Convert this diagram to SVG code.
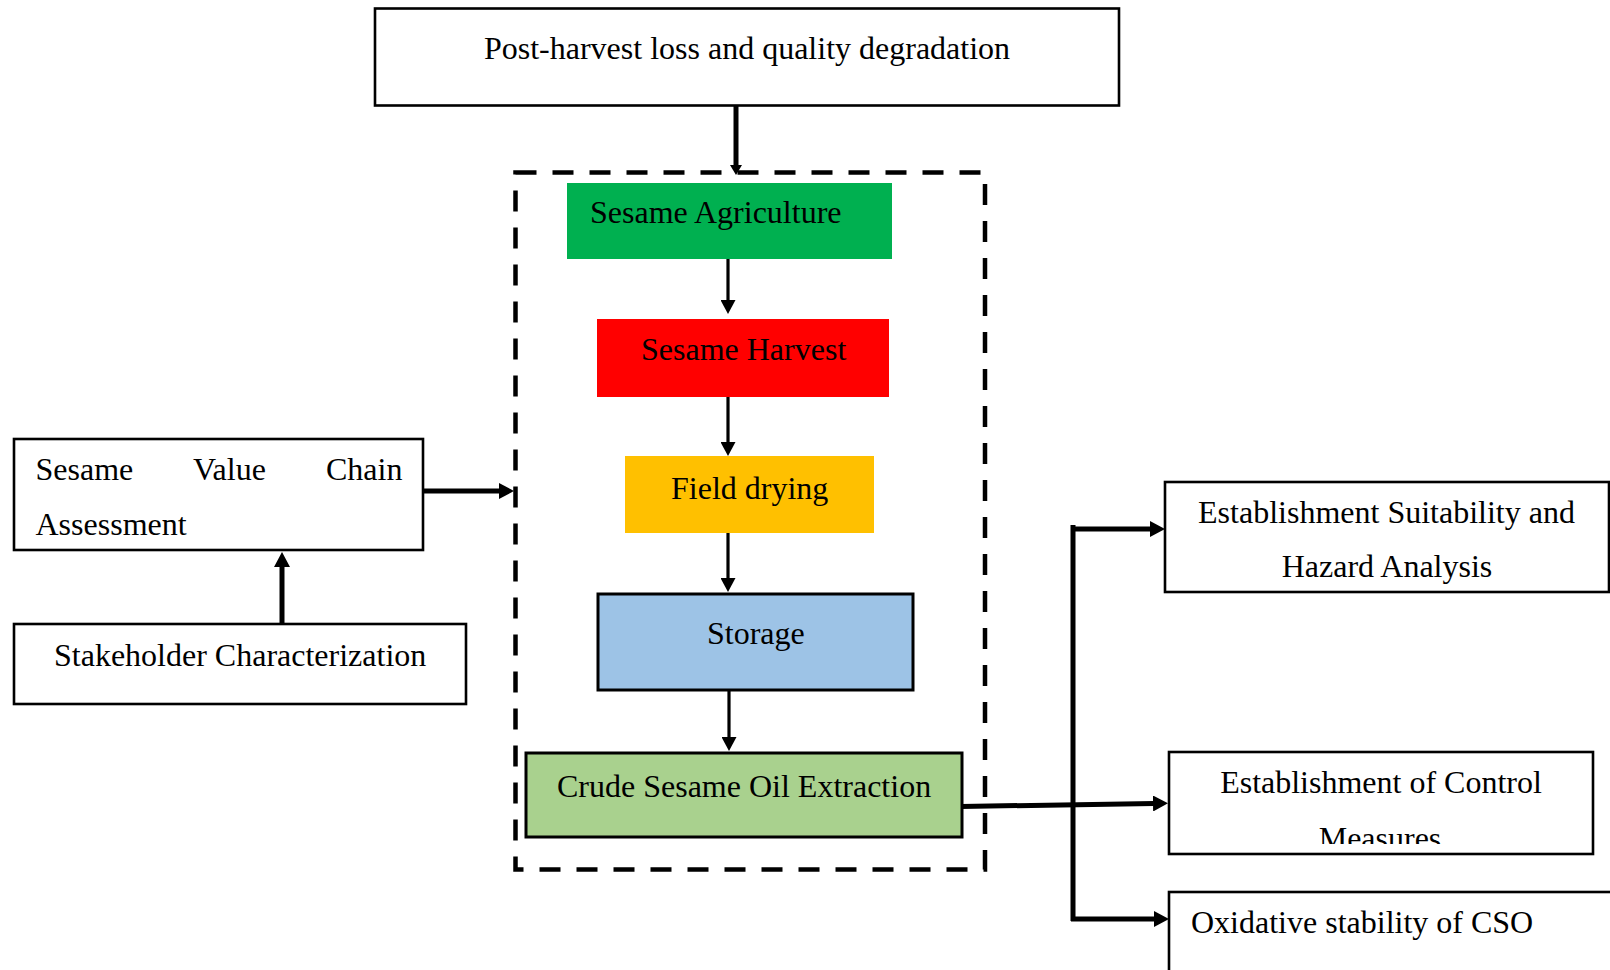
<svg xmlns="http://www.w3.org/2000/svg" width="1610" height="970" viewBox="0 0 1610 970">
  <style>
    .box { fill: #ffffff; stroke: #000000; stroke-width: 2.6; }
    .step { stroke: none; }
    .step-line { stroke: #000000; stroke-width: 3; }
    .label { font-family: "Liberation Serif", "Times New Roman", serif; font-size: 32px; fill: #000000; }
    .mid { text-anchor: middle; }
    .thin { fill: none; stroke: #000000; stroke-width: 3.2; }
    .bold { fill: none; stroke: #000000; stroke-width: 5; }
    .frame { fill: none; stroke: #000000; stroke-width: 4.5; stroke-dasharray: 21 16; }
  </style>
  <defs>
    <marker id="head-sm" viewBox="0 0 14 15" refX="1" refY="7.5" markerWidth="14" markerHeight="15" markerUnits="userSpaceOnUse" orient="auto">
      <path d="M0,0 L14,7.5 L0,15 Z" fill="#000000"/>
    </marker>
    <marker id="head-lg" viewBox="0 0 15 16" refX="1" refY="8" markerWidth="15" markerHeight="16" markerUnits="userSpaceOnUse" orient="auto">
      <path d="M0,0 L15,8 L0,16 Z" fill="#000000"/>
    </marker>
    <marker id="head-tiny" viewBox="0 0 10 12" refX="1" refY="6" markerWidth="10" markerHeight="12" markerUnits="userSpaceOnUse" orient="auto">
      <path d="M0,0 L10,6 L0,12 Z" fill="#000000"/>
    </marker>
    <clipPath id="clip-control">
      <rect x="1169" y="752" width="424" height="92"/>
    </clipPath>
  </defs>

  <rect width="1610" height="970" fill="#ffffff"/>

  <!-- dashed frame around the processing chain -->
  <g id="chain-frame">
    <rect class="frame" x="515.5" y="172.5" width="469.5" height="697"/>
  </g>

  <!-- connectors -->
  <g id="connectors">
    <path class="bold" d="M736,106 V166" marker-end="url(#head-tiny)"/>
    <path class="thin" d="M728,254 V301" marker-end="url(#head-sm)"/>
    <path class="thin" d="M728,397 V443" marker-end="url(#head-sm)"/>
    <path class="thin" d="M728,533 V579" marker-end="url(#head-sm)"/>
    <path class="thin" d="M729,690 V738" marker-end="url(#head-sm)"/>
    <path class="bold" d="M423,491 H500" marker-end="url(#head-lg)"/>
    <path class="bold" d="M282,624 V566" marker-end="url(#head-lg)"/>
    <path class="bold" d="M1073,525 V921"/>
    <path class="bold" d="M1071,529 H1151" marker-end="url(#head-lg)"/>
    <path class="bold" d="M961,806.5 L1154,803.5" marker-end="url(#head-lg)"/>
    <path class="bold" d="M1071,919 H1155" marker-end="url(#head-lg)"/>
  </g>

  <g id="post-harvest-loss">
    <rect class="box" x="375" y="8.5" width="744" height="97"/>
    <text class="label mid" x="747" y="59">Post-harvest loss and quality degradation</text>
  </g>

  <g id="sesame-agriculture">
    <rect class="step" x="567" y="183" width="325" height="76" fill="#00B050"/>
    <text class="label" x="590" y="223">Sesame Agriculture</text>
  </g>

  <g id="sesame-harvest">
    <rect class="step" x="597" y="319" width="292" height="78" fill="#FF0000"/>
    <text class="label" x="641" y="360">Sesame Harvest</text>
  </g>

  <g id="field-drying">
    <rect class="step" x="625" y="456" width="249" height="77" fill="#FFC000"/>
    <text class="label" x="671" y="499">Field drying</text>
  </g>

  <g id="storage">
    <rect class="step-line" x="598" y="594" width="315" height="96" fill="#9DC3E6"/>
    <text class="label" x="707" y="644">Storage</text>
  </g>

  <g id="oil-extraction">
    <rect class="step-line" x="526" y="753" width="436" height="84" fill="#A9D18E"/>
    <text class="label" x="557" y="797">Crude Sesame Oil Extraction</text>
  </g>

  <g id="value-chain-assessment">
    <rect class="box" x="14" y="439" width="409" height="111"/>
    <text class="label" y="480"><tspan x="35.5">Sesame</tspan><tspan x="193">Value</tspan><tspan x="326">Chain</tspan></text>
    <text class="label" x="35.5" y="535">Assessment</text>
  </g>

  <g id="stakeholder-characterization">
    <rect class="box" x="14" y="624" width="452" height="80"/>
    <text class="label" x="54" y="666">Stakeholder Characterization</text>
  </g>

  <g id="suitability-hazard">
    <rect class="box" x="1165" y="482" width="444" height="110"/>
    <text class="label mid" x="1386.5" y="523">Establishment Suitability and</text>
    <text class="label mid" x="1387" y="577">Hazard Analysis</text>
  </g>

  <g id="control-measures">
    <rect class="box" x="1169" y="752" width="424" height="102"/>
    <text class="label mid" x="1381" y="793">Establishment of Control</text>
    <text class="label mid" x="1380" y="849" clip-path="url(#clip-control)">Measures</text>
  </g>

  <g id="oxidative-stability">
    <rect class="box" x="1169" y="892" width="460" height="100"/>
    <text class="label" x="1191" y="933">Oxidative stability of CSO</text>
  </g>
</svg>
